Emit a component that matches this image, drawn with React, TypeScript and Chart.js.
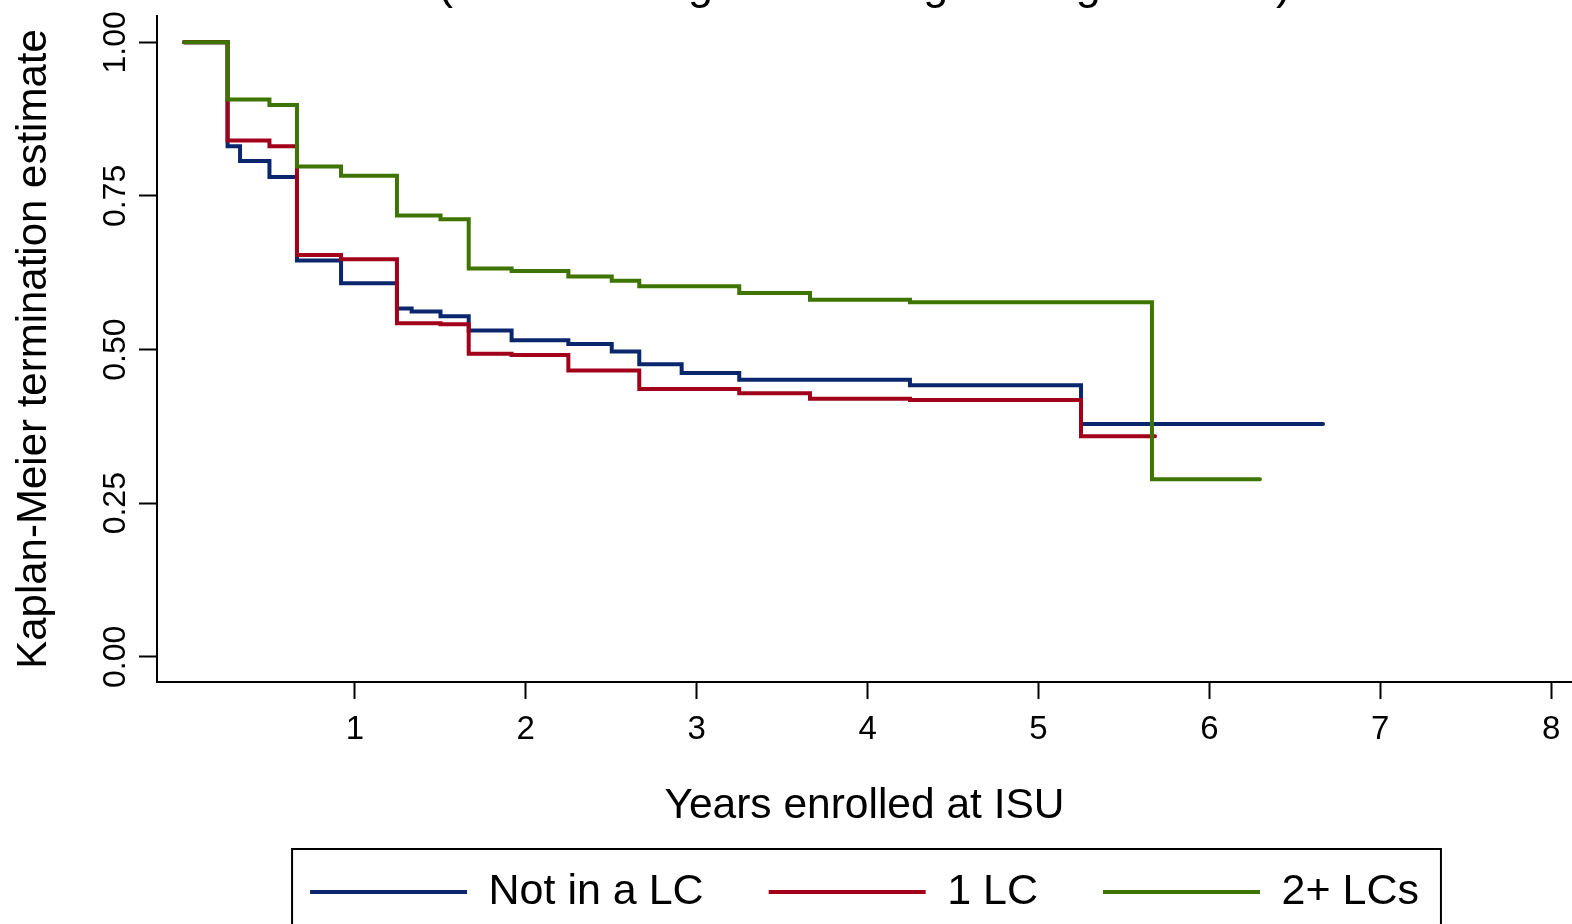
import React, { useEffect, useRef } from "react";
import { Chart, registerables } from "chart.js";

Chart.register(...registerables);

const FONT = "'Liberation Sans', Arial, sans-serif";

const seriesNames = ["Not in a LC", "1 LC", "2+ LCs"];
const seriesColors = ["#0a276d", "#a2001a", "#3e7400"];

const notLcTimes = [0, 0.255, 0.328, 0.5, 0.661, 0.919, 1.246, 1.332, 1.501, 1.666, 1.917, 2.249, 2.503, 2.664, 2.912, 3.249, 4.248, 5.249, 6.665];
const notLcSurv = [1, 0.831, 0.807, 0.781, 0.645, 0.608, 0.567, 0.562, 0.554, 0.531, 0.515, 0.509, 0.497, 0.476, 0.462, 0.451, 0.442, 0.379, 0.379];

const oneLcTimes = [0, 0.255, 0.5, 0.661, 0.919, 1.246, 1.501, 1.666, 1.917, 2.249, 2.664, 3.249, 3.663, 4.248, 5.249, 5.682];
const oneLcSurv = [1, 0.84, 0.831, 0.654, 0.647, 0.543, 0.541, 0.493, 0.491, 0.466, 0.436, 0.429, 0.42, 0.418, 0.359, 0.359];

const twoLcTimes = [0, 0.255, 0.5, 0.661, 0.919, 1.246, 1.501, 1.666, 1.917, 2.249, 2.503, 2.664, 3.249, 3.663, 4.248, 5.664, 6.296];
const twoLcSurv = [1, 0.907, 0.898, 0.798, 0.783, 0.718, 0.712, 0.632, 0.628, 0.619, 0.612, 0.603, 0.592, 0.581, 0.577, 0.289, 0.289];

const xTickValues = [1, 2, 3, 4, 5, 6, 7, 8];
const yTickValues = [0, 0.25, 0.5, 0.75, 1];

const titleText = "(Full-time degree-seeking undergraduates)";
const xTitle = "Years enrolled at ISU";
const yTitle = "Kaplan-Meier termination estimate";

const toPoints = (t: number[], s: number[]) => t.map((x, i) => ({ x, y: s[i] }));

const partialTitle = {
  id: "partialTitle",
  afterDraw(chart: any) {
    const { ctx, chartArea } = chart;
    ctx.save();
    ctx.font = `45px ${FONT}`;
    ctx.fillStyle = "#000";
    ctx.textAlign = "center";
    ctx.textBaseline = "alphabetic";
    ctx.fillText(titleText, (chartArea.left + chartArea.right) / 2, -1);
    ctx.restore();
  },
};

const legendFrame = {
  id: "legendFrame",
  afterDraw(chart: any) {
    const lg = chart.legend;
    if (!lg || !lg.legendHitBoxes || !lg.legendHitBoxes.length) return;
    const hb = lg.legendHitBoxes;
    const first = hb[0];
    const last = hb[hb.length - 1];
    const left = first.left - 18;
    const right = last.left + last.width + 22;
    const top = first.top + first.height / 2 - 43;
    const { ctx } = chart;
    ctx.save();
    ctx.strokeStyle = "#000";
    ctx.lineWidth = 2;
    ctx.strokeRect(left, top, right - left, 90);
    ctx.restore();
  },
};

export default function App() {
  const ref = useRef<HTMLCanvasElement | null>(null);

  useEffect(() => {
    document.body.style.margin = "0";
    Chart.defaults.font.family = FONT;
    const canvas = ref.current;
    if (!canvas) return;

    const datasets = [
      toPoints(notLcTimes, notLcSurv),
      toPoints(oneLcTimes, oneLcSurv),
      toPoints(twoLcTimes, twoLcSurv),
    ].map((data, i) => ({
      label: seriesNames[i],
      data,
      borderColor: seriesColors[i],
      backgroundColor: seriesColors[i],
      borderWidth: 4,
      pointRadius: 0,
      pointHoverRadius: 0,
      stepped: "before" as const,
      fill: false,
      tension: 0,
      borderCapStyle: "round" as const,
      order: 2 - i,
    }));

    const chart = new Chart(canvas, {
      type: "line",
      data: { datasets },
      options: {
        animation: false,
        responsive: false,
        devicePixelRatio: 1,
        layout: { padding: { top: 16, right: 0, bottom: 0.5, left: 0 } },
        plugins: {
          tooltip: { enabled: false },
          title: { display: false },
          legend: {
            position: "bottom",
            fullSize: false,
            labels: {
              boxWidth: 157,
              boxHeight: 4,
              padding: 65,
              color: "#000",
              font: { size: 43, family: FONT },
              generateLabels: (c: any) =>
                Chart.defaults.plugins.legend.labels
                  .generateLabels(c)
                  .map((l: any) => ({ ...l, lineWidth: 0 })),
              sort: (a: any, b: any) => a.datasetIndex - b.datasetIndex,
            },
          },
        },
        scales: {
          x: {
            type: "linear",
            min: -0.158,
            max: 8.122,
            afterBuildTicks: (s: any) => {
              s.ticks = xTickValues.map((v) => ({ value: v }));
            },
            afterFit: (s: any) => {
              s.height = 123.5;
            },
            grid: {
              drawOnChartArea: false,
              drawTicks: true,
              tickLength: 17,
              tickWidth: 2,
              tickColor: "#000",
            },
            border: { display: true, color: "#000", width: 2 },
            ticks: {
              color: "#000",
              font: { size: 33, family: FONT },
              padding: 11,
              maxRotation: 0,
              autoSkip: false,
              callback: (v: any) => String(v),
            },
            title: {
              display: true,
              text: xTitle,
              color: "#000",
              font: { size: 42.5, family: FONT },
              padding: { top: 20, bottom: -26.5 },
            },
          },
          y: {
            type: "linear",
            min: -0.041,
            max: 1.0428,
            afterBuildTicks: (s: any) => {
              s.ticks = yTickValues.map((v) => ({ value: v }));
            },
            afterFit: (s: any) => {
              s.width = 157;
            },
            grid: {
              drawOnChartArea: false,
              drawTicks: true,
              tickLength: 18,
              tickWidth: 2,
              tickColor: "#000",
            },
            border: { display: true, color: "#000", width: 2 },
            ticks: {
              color: "#000",
              font: { size: 32, family: FONT },
              padding: -8,
              minRotation: 90,
              maxRotation: 90,
              crossAlign: "center",
              autoSkip: false,
              callback: (v: any) => Number(v).toFixed(2),
            },
            title: {
              display: true,
              text: yTitle,
              color: "#000",
              font: { size: 42, family: FONT },
              padding: { top: 9, bottom: 0 },
            },
          },
        },
      },
      plugins: [partialTitle, legendFrame],
    });

    return () => chart.destroy();
  }, []);

  return (
    <div style={{ width: 1572, height: 924 }}>
      <canvas ref={ref} width={1572} height={924} style={{ display: "block" }} />
    </div>
  );
}
